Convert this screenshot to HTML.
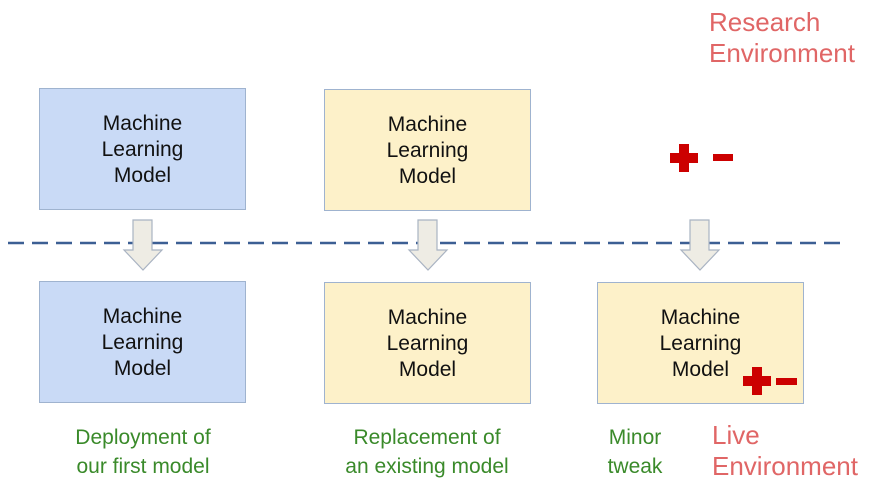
<!DOCTYPE html>
<html><head><style>
body{margin:0;width:892px;height:498px;background:#fff;position:relative;overflow:hidden;font-family:"Liberation Sans",sans-serif}
.b{position:absolute;width:207px;height:122px;box-sizing:border-box;border:1.5px solid #9fb3cf;display:flex;align-items:center;justify-content:center;text-align:center;font-size:21px;line-height:26px;color:#111;padding-top:2px}
.bl{background:#c9daf6}.y{background:#fdf1c9}
.g{position:absolute;color:#3a8a2a;font-size:21px;line-height:29px;text-align:center}
.r{position:absolute;color:#e06666;font-size:26px;line-height:31px}
</style></head><body>
<div class="b bl" style="left:39px;top:88px">Machine<br>Learning<br>Model</div>
<div class="b y" style="left:324px;top:89px">Machine<br>Learning<br>Model</div>
<div class="b bl" style="left:39px;top:281px">Machine<br>Learning<br>Model</div>
<div class="b y" style="left:324px;top:282px">Machine<br>Learning<br>Model</div>
<div class="b y" style="left:597px;top:282px">Machine<br>Learning<br>Model</div>
<svg width="892" height="498" style="position:absolute;left:0;top:0">
<line x1="8" y1="243" x2="846" y2="243" stroke="#3c5f94" stroke-width="2.5" stroke-dasharray="16 8"/>
<g fill="#eeece4" stroke="#a9b3c2" stroke-width="1.2">
<path d="M133 220H152V250H162L143 270L124 250H133Z"/>
<path d="M418 220H437V250H447L428 270L409 250H418Z"/>
<path d="M690 220H709V250H719L700 270L681 250H690Z"/>
</g>
<g fill="#cc0000">
<rect x="670" y="153" width="28" height="10"/><rect x="679" y="144" width="10" height="28"/>
<rect x="713" y="154" width="20" height="7"/>
<rect x="743" y="376" width="28" height="10"/><rect x="752" y="367" width="10" height="28"/>
<rect x="776" y="378" width="21" height="7"/>
</g>
</svg>
<div class="g" style="left:33px;top:423px;width:220px">Deployment of<br>our first model</div>
<div class="g" style="left:317px;top:423px;width:220px">Replacement of<br>an existing model</div>
<div class="g" style="left:598px;top:423px;width:74px">Minor<br>tweak</div>
<div class="r" style="left:709px;top:7px">Research<br>Environment</div>
<div class="r" style="left:712px;top:420px">Live<br>Environment</div>
</body></html>
